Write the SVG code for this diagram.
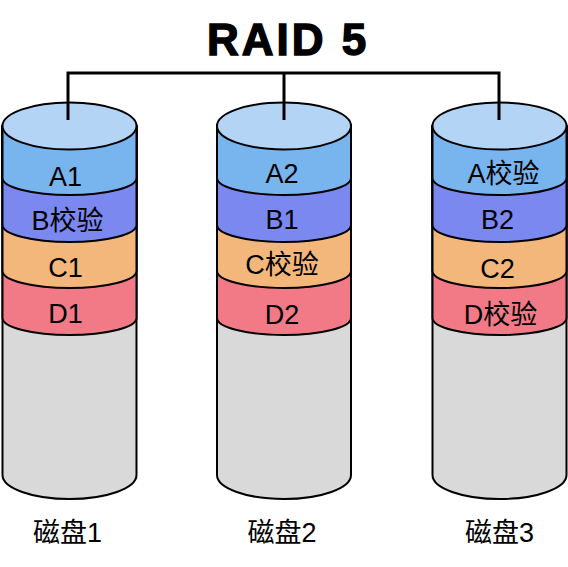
<svg xmlns="http://www.w3.org/2000/svg" xmlns:xlink="http://www.w3.org/1999/xlink" width="568" height="567" viewBox="0 0 568 567">
<style>
.s{stroke:#000;stroke-width:2}
.t{font-family:"Liberation Sans","Noto Sans CJK SC",sans-serif;font-size:27px;fill:#000;text-anchor:middle}
.title{font-family:"Liberation Sans",Arial,sans-serif;font-size:44px;font-weight:bold;fill:#000;text-anchor:middle;letter-spacing:3px;stroke:#000;stroke-width:1.4}
.conn{fill:none;stroke:#000;stroke-width:3}
</style>
<defs>
<g id="cyl">
<path class="s" fill="#d9d9d9" d="M-67,126 V475 A67,24 0 0 0 67,475 V126 Z"/>
<path class="s" fill="#f27a87" d="M-67,126 V318 A67,17 0 0 0 67,318 V126 Z"/>
<path class="s" fill="#f3b77c" d="M-67,126 V271 A67,17 0 0 0 67,271 V126 Z"/>
<path class="s" fill="#7b88f0" d="M-67,126 V225 A67,17 0 0 0 67,225 V126 Z"/>
<path class="s" fill="#78b4ee" d="M-67,126 V178 A67,17 0 0 0 67,178 V126 Z"/>
<ellipse class="s" fill="#b4d4f6" cx="0" cy="126" rx="67" ry="23.5"/>
</g>
</defs>
<rect width="568" height="567" fill="#fff"/>
<text class="title" x="288" y="55">RAID 5</text>
<g id="disk1" transform="translate(69.5,0)">
<use xlink:href="#cyl" href="#cyl"/>
<text class="t" x="-4" y="186">A1</text>
<text class="t" x="-2" y="230">B校验</text>
<text class="t" x="-4" y="277">C1</text>
<text class="t" x="-4" y="323">D1</text>
<text class="t" x="-2" y="542">磁盘1</text>
</g>
<g id="disk2" transform="translate(284,0)">
<use xlink:href="#cyl" href="#cyl"/>
<text class="t" x="-2" y="183">A2</text>
<text class="t" x="-2" y="229">B1</text>
<text class="t" x="-2" y="274">C校验</text>
<text class="t" x="-2" y="324">D2</text>
<text class="t" x="-2" y="542">磁盘2</text>
</g>
<g id="disk3" transform="translate(499.5,0)">
<use xlink:href="#cyl" href="#cyl"/>
<text class="t" x="4" y="183">A校验</text>
<text class="t" x="-2" y="229">B2</text>
<text class="t" x="-2" y="278">C2</text>
<text class="t" x="1" y="324">D校验</text>
<text class="t" x="0" y="542">磁盘3</text>
</g>
<g id="connectors">
<path class="conn" d="M68,120 V73 H499 V120"/>
<path class="conn" d="M284,73 V120"/>
</g>
</svg>
